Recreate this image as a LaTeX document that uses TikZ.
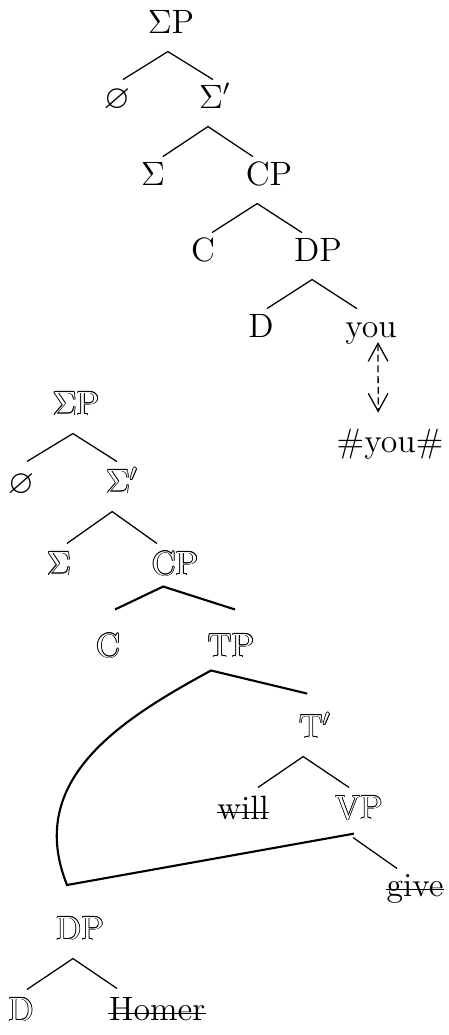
\documentclass[tikz,border=0pt]{standalone}
\usepackage{amssymb}
\usetikzlibrary{arrows.meta}
\newcommand{\ocopy}[3]{\rlap{\kern#1\raise#2\hbox{#3}}}
\newcommand{\outlined}[1]{%
    \ocopy{0.3pt}{0pt}{#1}\ocopy{-0.3pt}{0pt}{#1}%
    \ocopy{0pt}{0.3pt}{#1}\ocopy{0pt}{-0.3pt}{#1}%
    \ocopy{0.21pt}{0.21pt}{#1}\ocopy{-0.21pt}{0.21pt}{#1}%
    \ocopy{0.21pt}{-0.21pt}{#1}\ocopy{-0.21pt}{-0.21pt}{#1}%
    {\color{white}#1}}
\tikzset{
    >={Straight Barb[length=6.4pt,width=7pt]},
    cat/.style={anchor=base,inner sep=0pt,text height=9.9pt,text depth=6.4pt},
    ocat/.style={cat,text height=11pt},
    branch/.style={draw,line width=0.45pt},
    heavy/.style={draw,line width=0.75pt},
    strike/.style={draw,line width=0.6pt}
}

\begin{document}
\begin{tikzpicture}[x=0.0125cm,y=-0.0125cm,font=\fontsize{12}{14}\selectfont]
\useasboundingbox (0,0) rectangle (449,1035);

% Upper tree
\node[cat] (sp1) at (171,33) {$\Sigma$P};
\node[cat] (nul1) at (117,108) {$\varnothing$};
\node[cat] (sbar1) at (215,108) {$\Sigma'$};
\node[cat] (sig1) at (153,185) {$\Sigma$};
\node[cat] (cp1) at (269,185) {CP};
\node[cat] (c1) at (203,261) {C};
\node[cat] (dp1) at (318,261) {DP};
\node[cat] (d1) at (261,337) {D};
\node[cat] (you1) at (371,337) {you};
\node[cat] (youh) at (390,452) {\#you\#};

\draw[branch] ([xshift=2.1pt]nul1.north) -- ([xshift=-1.1pt]sp1.south) -- ([xshift=-0.7pt]sbar1.north);
\draw[branch] ([xshift=3.5pt]sig1.north) -- ([xshift=-2.5pt]sbar1.south) -- ([xshift=-5.7pt]cp1.north);
\draw[branch] ([xshift=3.2pt]c1.north) -- ([xshift=-4.2pt]cp1.south) -- ([xshift=-5.7pt]dp1.north);
\draw[branch] ([xshift=2.1pt]d1.north) -- ([xshift=-2.1pt]dp1.south) -- ([xshift=-5pt]you1.north);
\draw[branch,<->,dash pattern=on 2.5pt off 1.3pt] ([xshift=2.5pt,yshift=-1.8pt]you1.base) -- ([xshift=-4.2pt,yshift=3.9pt]youh.north);

% Lower tree
\node[ocat] (sp2) at (76,415) {\outlined{$\Sigma$P}};
\node[ocat] (nul2) at (21,493) {$\varnothing$};
\node[ocat] (sbar2) at (122,493) {\outlined{$\Sigma'$}};
\node[ocat] (sig2) at (59,575) {\outlined{$\Sigma$}};
\node[ocat] (cp2) at (175,575) {\outlined{CP}};
\node[ocat] (c2) at (108,657) {\outlined{C}};
\node[ocat] (tp2) at (231,657) {\outlined{TP}};
\node[ocat] (tbar2) at (315,738) {\outlined{T$'$}};
\node[ocat] (will) at (243,819) {will};
\node[ocat] (vp2) at (359,819) {\outlined{VP}};
\node[ocat] (give) at (415,896) {give};
\node[ocat] (dp2) at (80,940) {\outlined{DP}};
\node[ocat] (d2) at (21,1021) {\outlined{D}};
\node[ocat] (homer) at (157,1020) {Homer};
\coordinate (bend) at (67,885);

% struck-out words
\draw[strike] (will.west) -- (will.east);
\draw[strike] (give.west) -- (give.east);
\draw[strike] (homer.west) -- (homer.east);

\draw[branch] ([xshift=2.1pt]nul2.north) -- ([xshift=-1.1pt]sp2.south) -- ([xshift=-1.8pt]sbar2.north);
\draw[branch] ([xshift=2.8pt]sig2.north) -- ([xshift=-3.5pt]sbar2.south) -- ([xshift=-6.4pt]cp2.north);
\draw[heavy] ([xshift=2.5pt,yshift=5.7pt]c2.north) -- ([xshift=-4.2pt,yshift=2.5pt]cp2.south) -- ([xshift=1.4pt,yshift=5.7pt]tp2.north);
\draw[heavy] ([xshift=-2.8pt,yshift=4.6pt]tbar2.north) -- ([xshift=-7.1pt,yshift=1.8pt]tp2.south)
    .. controls (120,720) and (25,780) .. (bend) -- ([xshift=-1.8pt,yshift=1.4pt]vp2.south);
\draw[branch] ([xshift=5.3pt]will.north) -- ([xshift=-4.2pt]tbar2.south) -- ([xshift=-3.5pt]vp2.north);
\draw[branch] ([xshift=-2.1pt]vp2.south) -- ([xshift=-6.4pt,yshift=-1.4pt]give.north);
\draw[branch] ([xshift=2.1pt]d2.north) -- ([xshift=-2.5pt]dp2.south) -- ([xshift=-14.2pt]homer.north);

\end{tikzpicture}
\end{document}
